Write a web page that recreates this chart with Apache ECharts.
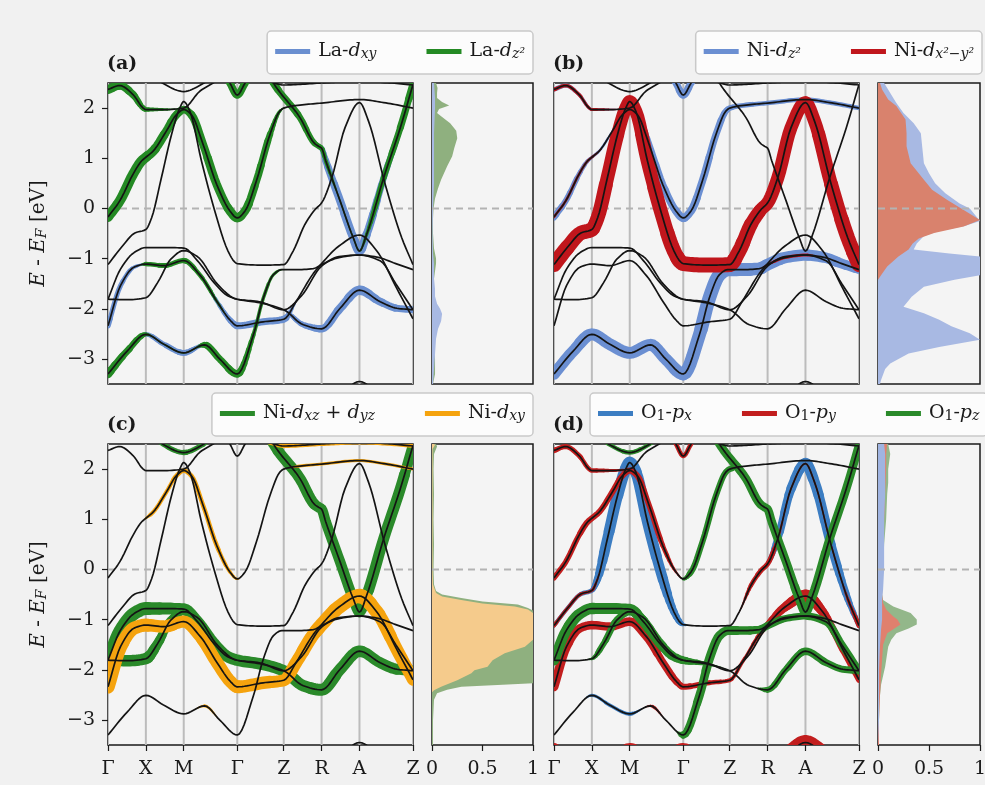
<!DOCTYPE html>
<html>
<head>
<meta charset="utf-8">
<title>Projected band structures and DOS</title>
<script src="https://cdn.jsdelivr.net/npm/echarts@6/dist/echarts.min.js"></script>
<style>
  html, body { margin: 0; padding: 0; overflow: hidden; background: #f1f1f1; }
  #chart { width: 1010px; height: 785px; }
</style>
</head>
<body>
<div id="chart"></div>
<script>
// ---------- k-path, tick labels ----------
const kPath = [0, 1, 2, 3.414, 4.641, 5.641, 6.641, 8.055];
const kLabels = ['Γ', 'X', 'M', 'Γ', 'Z', 'R', 'A', 'Z'];
const energyTicks = [-3, -2, -1, 0, 1, 2];
const dosTicks = [0, 0.5, 1];
const energyRange = [-3.5, 2.5];

// ---------- bands: [k, E - E_F (eV)] ----------
const bandA = [[0,-0.17],[0.31,0.15],[0.66,0.68],[0.88,0.94],[1.0,1.02],[1.19,1.14],[1.54,1.54],[1.81,1.87],[2.0,1.97],[2.2,1.87],[2.51,1.28],[2.87,0.48],[3.22,-0.05],[3.414,-0.19],[3.62,-0.05],[3.92,0.55],[4.28,1.48],[4.54,1.94],[4.641,2.0],[5.07,2.06],[5.641,2.1],[6.641,2.17],[7.28,2.11],[8.055,2.0]];
const bandD = [[0,-1.12],[0.35,-0.78],[0.71,-0.49],[1.0,-0.42],[1.15,-0.19],[1.41,0.61],[1.68,1.48],[1.9,2.01],[2.0,2.13],[2.16,1.94],[2.47,0.94],[2.82,-0.05],[3.17,-0.85],[3.35,-1.07],[3.414,-1.1],[4.06,-1.13],[4.641,-1.12],[4.89,-0.85],[5.2,-0.32],[5.47,-0.02],[5.641,0.11],[5.91,0.61],[6.26,1.61],[6.641,2.11],[6.88,1.74],[7.32,0.48],[7.76,-0.59],[8.055,-1.12]];
const bandT1 = [[0,2.37],[0.31,2.45],[0.66,2.27],[0.93,2.0],[1.0,1.97],[1.5,1.97],[2.0,2.0],[2.43,2.34],[2.82,2.52],[3.0,2.62]];
const bandT2 = [[1.2,2.65],[1.46,2.49],[2.0,2.33],[2.51,2.49],[2.8,2.65]];
const bandT3 = [[3.05,2.7],[3.22,2.5],[3.414,2.26],[3.62,2.5],[3.8,2.7]];
const bandT4 = [[3.9,2.62],[4.3,2.52],[4.641,2.46],[5.641,2.5],[6.641,2.53],[7.5,2.5],[8.055,2.46]];
const bandU = [[4.2,2.75],[4.37,2.5],[5.07,1.81],[5.45,1.3],[5.56,1.24],[5.641,1.2],[5.75,0.95],[6.13,0.15],[6.48,-0.59],[6.641,-0.85],[6.83,-0.52],[7.28,0.61],[7.72,1.61],[8.055,2.47]];
const bandB = [[0,-3.3],[0.5,-2.85],[1.0,-2.51],[1.48,-2.71],[2.0,-2.88],[2.55,-2.72],[2.96,-3.01],[3.414,-3.3],[3.84,-2.52],[4.1,-1.79],[4.37,-1.32],[4.59,-1.22],[5.0,-1.22],[5.42,-1.2],[5.641,-1.12],[6.1,-0.98],[6.641,-0.93],[7.1,-0.97],[7.6,-1.1],[8.055,-1.22]];
const bandF = [[0,-1.81],[0.33,-1.21],[0.69,-0.88],[1.0,-0.78],[1.48,-0.78],[2.0,-0.79],[2.36,-1.04],[2.8,-1.48],[3.16,-1.74],[3.414,-1.81],[4.0,-1.88],[4.641,-2.02],[5.16,-2.32],[5.641,-2.4],[6.13,-1.99],[6.641,-1.63],[7.19,-1.86],[7.63,-1.99],[8.055,-2.02]];
const bandG = [[0,-1.81],[0.52,-1.82],[1.0,-1.78],[1.31,-1.48],[1.66,-1.01],[2.0,-0.84],[2.36,-0.96],[2.89,-1.51],[3.33,-1.79],[3.414,-1.81],[4.0,-1.86],[4.641,-2.02],[5.1,-1.75],[5.641,-1.15],[6.1,-0.96],[6.641,-0.93],[7.2,-1.05],[7.6,-1.5],[8.055,-2.02]];
const bandH = [[0,-2.34],[0.33,-1.54],[0.69,-1.17],[1.0,-1.11],[1.48,-1.14],[2.0,-1.04],[2.44,-1.34],[2.89,-1.87],[3.24,-2.24],[3.414,-2.34],[4.1,-2.26],[4.641,-2.21],[4.98,-1.84],[5.42,-1.3],[5.641,-1.1],[6.1,-0.75],[6.641,-0.53],[7.1,-0.85],[7.63,-1.6],[8.055,-2.2]];
const bandW = [[5.9,-3.9],[6.3,-3.6],[6.641,-3.45],[7.0,-3.6],[7.4,-3.9]];
const bandW2 = [[0,-3.58],[0.5,-3.85],[1.0,-3.95],[1.5,-3.85],[2.0,-3.58],[2.7,-3.85],[3.414,-3.58],[3.9,-3.9]];
const allBands = [bandA, bandD, bandT1, bandT2, bandT3, bandT4, bandU, bandB, bandF, bandG, bandH, bandW, bandW2];

// ---------- orbital weights along bands: [k, weight 0..1] ----------
// (a) La-d_xy
const aDxy_H = [[0,0.35],[0.5,0.3],[1.0,0.1],[2.0,0.05],[3.0,0.3],[3.414,0.45],[4.641,0.45],[4.85,0.2],[5.0,0]];
const aDxy_F = [[4.6,0],[4.85,0.3],[5.641,0.5],[6.641,0.62],[7.3,0.5],[8.055,0.45]];
const aDxy_U = [[5.5,0.2],[5.8,0.5],[6.641,0.6],[7.2,0.45],[8.055,0.3]];
const aDxy_B = [[0.7,0],[1.0,0.3],[2.0,0.4],[2.5,0.2],[2.8,0]];
// (a) La-d_z2
const aDz2_A = [[0,0.65],[1.0,0.65],[2.0,0.5],[2.6,0.55],[3.414,0.6],[4.2,0.45],[4.55,0.15],[4.7,0]];
const aDz2_T1 = [[0,0.6],[0.6,0.5],[1.0,0.3],[1.5,0.15],[2.0,0]];
const aDz2_T3 = [[3.1,0.5],[3.414,0.5],[3.7,0.5]];
const aDz2_U = [[4.2,0.5],[5.0,0.45],[5.6,0.35],[6.0,0.1],[6.641,0.1],[7.0,0.35],[8.055,0.5]];
const aDz2_B = [[0,0.55],[0.8,0.4],[1.1,0.1],[2.3,0.1],[2.6,0.45],[3.414,0.5],[3.9,0.25],[4.4,0.2],[4.7,0]];
const aDz2_H = [[0.8,0],[1.0,0.3],[2.0,0.35],[2.7,0.25],[3.2,0]];
// (b) Ni-d_z2
const bDz2_A = [[0,0.45],[0.6,0.35],[1.0,0.2],[1.8,0.1],[2.3,0.4],[3.414,0.55],[4.4,0.45],[4.641,0.35],[5.5,0.3],[8.055,0.3]];
const bDz2_B = [[0,0.75],[1.0,0.8],[2.0,0.8],[3.0,0.8],[3.414,0.85],[4.1,0.9],[4.641,0.9],[5.641,0.8],[6.641,0.75],[7.3,0.7],[8.055,0.6]];
const bDz2_T3 = [[3.05,0.45],[3.414,0.5],[3.8,0.45]];
const bDz2_T1 = [[0,0.3],[1.0,0.2],[2.0,0]];
// (b) Ni-d_x2-y2
const bDx2_D = [[0,1.0],[1.0,0.95],[2.0,0.85],[3.414,1.0],[4.641,1.0],[5.641,0.85],[6.641,0.85],[8.055,1.0]];
const bDx2_T1 = [[0,0.25],[1.0,0.2],[2.0,0]];
const bDx2_A = [[0,0.15],[1.0,0.15],[1.5,0]];
const bDx2_B = [[5.4,0],[5.8,0.2],[6.641,0.2],[7.0,0]];
// (c) Ni-d_xz + d_yz
const cDxz_F = [[0,0.85],[1.0,0.85],[2.0,0.75],[3.414,0.75],[4.641,0.75],[5.641,0.8],[6.641,0.75],[8.055,0.7]];
const cDxz_G = [[0,0.75],[1.0,0.75],[1.5,0.55],[2.0,0.45],[2.5,0.2],[3.0,0]];
const cDxz_U = [[4.2,0.7],[5.0,0.75],[5.641,0.7],[6.641,0.7],[7.3,0.75],[8.055,0.7]];
const cDxz_T2 = [[1.3,0.3],[2.0,0.35],[2.7,0.3]];
// (c) Ni-d_xy
const cDxy_H = [[0,0.9],[1.0,0.85],[2.0,0.8],[3.414,0.85],[4.641,0.8],[5.641,0.9],[6.641,0.95],[7.4,0.85],[8.055,0.8]];
const cDxy_A = [[0.9,0],[1.1,0.25],[2.0,0.3],[2.8,0.3],[3.3,0.2],[3.5,0],[4.7,0],[5.0,0.2],[8.055,0.2]];
const cDxy_T4 = [[4.0,0.25],[8.055,0.25]];
const cDxy_B = [[2.2,0],[2.55,0.2],[2.8,0.1],[3.0,0]];
// (d) O1-p_x
const dPx_D = [[0,0.25],[1.0,0.3],[1.3,0.7],[2.0,0.8],[2.8,0.7],[3.3,0.4],[3.5,0],[5.4,0],[5.9,0.5],[6.641,0.75],[7.4,0.6],[8.055,0.3]];
const dPx_B = [[0.7,0],[1.0,0.2],[2.0,0.25],[2.4,0]];
// (d) O1-p_y
const dPy_A = [[0,0.35],[1.0,0.4],[2.0,0.4],[2.8,0.35],[3.3,0.1],[3.5,0]];
const dPy_T1 = [[0,0.35],[1.0,0.3],[2.0,0.1]];
const dPy_T3 = [[3.1,0.3],[3.414,0.3],[3.7,0.3]];
const dPy_D = [[0,0.25],[1.0,0.2],[1.3,0],[4.8,0],[5.2,0.3],[5.7,0.35],[6.0,0.1],[7.6,0.1],[8.055,0.35]];
const dPy_H = [[0,0.6],[1.0,0.55],[2.0,0.55],[3.0,0.5],[3.414,0.4],[4.641,0.25],[5.2,0.2],[5.641,0.4],[6.641,0.85],[7.2,0.5],[8.055,0.4]];
const dPy_W = [[5.9,1.0],[7.4,1.0]];
const dPy_W2 = [[0,0.8],[3.9,0.8]];
const dPy_B = [[2.3,0],[2.6,0.2],[3.0,0]];
// (d) O1-p_z
const dPz_A = [[3.414,0.2],[3.6,0.4],[4.641,0.4],[4.8,0]];
const dPz_U = [[4.2,0.55],[5.641,0.55],[6.641,0.6],[8.055,0.55]];
const dPz_F = [[0,0.7],[1.0,0.75],[2.0,0.7],[3.0,0.6],[3.414,0.5],[4.0,0.2],[4.641,0],[5.3,0],[5.641,0.4],[6.641,0.5],[8.055,0.45]];
const dPz_G = [[0.8,0],[1.2,0.4],[2.0,0.5],[2.5,0.2],[3.0,0],[6.4,0],[6.7,0.5],[8.055,0.5]];
const dPz_B = [[3.2,0],[3.414,0.5],[4.1,0.6],[4.641,0.6],[5.641,0.5],[6.641,0.45],[6.9,0]];
const dPz_T2 = [[1.3,0.25],[2.0,0.3],[2.7,0.25]];

// ---------- projected DOS: [E - E_F (eV), states (arb.)] ----------
const dosA_dxy = [[-3.5,0.01],[-3.2,0.02],[-2.9,0.03],[-2.6,0.04],[-2.4,0.06],[-2.25,0.09],[-2.1,0.1],[-2.0,0.08],[-1.9,0.05],[-1.75,0.03],[-1.6,0.03],[-1.4,0.02],[-1.1,0.02],[-0.9,0.01],[-0.5,0.005],[0,0.01],[0.5,0.02],[1.0,0.02],[1.5,0.02],[2.0,0.03],[2.2,0.03],[2.5,0.02]];
const dosA_dz2 = [[-3.5,0.01],[-3.3,0.03],[-3.0,0.03],[-2.7,0.02],[-2.4,0.03],[-2.2,0.04],[-2.0,0.03],[-1.7,0.02],[-1.4,0.02],[-1.1,0.04],[-1.0,0.04],[-0.8,0.02],[-0.5,0.01],[-0.2,0.01],[0,0.015],[0.2,0.03],[0.4,0.06],[0.57,0.09],[0.84,0.15],[1.04,0.2],[1.2,0.22],[1.4,0.25],[1.55,0.24],[1.7,0.18],[1.82,0.1],[1.9,0.05],[1.98,0.07],[2.05,0.17],[2.12,0.1],[2.2,0.05],[2.3,0.05],[2.4,0.055],[2.5,0.04]];
const dosB_dz2 = [[-3.5,0.02],[-3.42,0.03],[-3.2,0.07],[-3.09,0.12],[-2.89,0.3],[-2.76,0.6],[-2.62,1.0],[-2.49,0.9],[-2.35,0.72],[-2.22,0.6],[-2.09,0.45],[-1.96,0.25],[-1.76,0.33],[-1.56,0.45],[-1.42,0.75],[-1.33,1.0],[-0.96,1.0],[-0.9,0.7],[-0.82,0.35],[-0.7,0.38],[-0.55,0.45],[-0.45,0.6],[-0.35,0.85],[-0.25,1.0],[-0.15,0.96],[0.0,0.9],[0.1,0.8],[0.3,0.66],[0.5,0.56],[0.7,0.5],[0.9,0.45],[1.1,0.44],[1.3,0.43],[1.5,0.42],[1.7,0.35],[1.9,0.25],[2.1,0.18],[2.3,0.12],[2.5,0.06]];
const dosB_dx2 = [[-1.42,0.0],[-1.3,0.04],[-1.16,0.09],[-0.96,0.2],[-0.82,0.3],[-0.7,0.34],[-0.6,0.4],[-0.49,0.55],[-0.36,0.84],[-0.23,1.0],[-0.03,0.84],[0.17,0.68],[0.37,0.53],[0.57,0.45],[0.9,0.32],[1.24,0.28],[1.5,0.28],[1.77,0.27],[2.04,0.18],[2.17,0.1],[2.37,0.04],[2.5,0.02]];
const dosC_dxz = [[-3.5,0.01],[-3.0,0.01],[-2.6,0.02],[-2.47,0.05],[-2.4,0.15],[-2.34,0.29],[-2.3,0.7],[-2.27,1.0],[-0.82,1.0],[-0.77,0.95],[-0.7,0.85],[-0.64,0.5],[-0.57,0.29],[-0.5,0.1],[-0.43,0.04],[-0.3,0.02],[0,0.015],[0.5,0.02],[1.0,0.015],[1.5,0.02],[2.0,0.015],[2.3,0.02],[2.45,0.05],[2.5,0.04]];
const dosC_dxy = [[-2.45,0.0],[-2.41,0.02],[-2.34,0.09],[-2.21,0.25],[-2.07,0.39],[-2.01,0.42],[-1.94,0.55],[-1.81,0.6],[-1.67,0.72],[-1.54,0.92],[-1.4,1.0],[-0.87,1.0],[-0.8,0.95],[-0.74,0.82],[-0.68,0.5],[-0.61,0.29],[-0.54,0.1],[-0.47,0.04],[-0.3,0.01],[0,0.005],[2.4,0.005],[2.48,0.03],[2.5,0.02]];
const dosD_px = [[-3.5,0.0],[-3.0,0.01],[-2.0,0.01],[-1.5,0.02],[-1.2,0.03],[-1.0,0.04],[-0.6,0.04],[-0.4,0.05],[0,0.06],[0.5,0.06],[1.0,0.06],[1.5,0.07],[2.0,0.07],[2.3,0.07],[2.5,0.06]];
const dosD_py = [[-3.5,0.01],[-3.0,0.01],[-2.5,0.02],[-2.1,0.03],[-1.8,0.04],[-1.5,0.05],[-1.27,0.09],[-1.1,0.22],[-1.0,0.19],[-0.94,0.15],[-0.8,0.08],[-0.67,0.05],[-0.5,0.04],[0,0.05],[0.5,0.05],[1.0,0.06],[1.5,0.07],[2.0,0.08],[2.3,0.08],[2.5,0.09]];
const dosD_pz = [[-3.5,0.005],[-3.0,0.01],[-2.6,0.015],[-2.3,0.03],[-1.94,0.07],[-1.54,0.1],[-1.4,0.13],[-1.27,0.18],[-1.18,0.3],[-1.1,0.38],[-1.0,0.38],[-0.87,0.32],[-0.74,0.15],[-0.61,0.05],[-0.5,0.04],[0,0.05],[0.5,0.06],[1.0,0.08],[1.5,0.09],[1.73,0.1],[2.0,0.1],[2.3,0.12],[2.5,0.1]];

// ---------- look ----------
const FONT = "'DejaVu Serif', 'Liberation Serif', serif";
const INK = '#1a1a1a';
const FAT_SCALE = 15;          // px of fat-band width for weight 1
const BAND_COLOR = '#141414';

// Plot rectangles: band panel then DOS panel, for (a) (b) (c) (d)
const gridsPos = [
  {left: 108, top: 83,  width: 305, height: 301},
  {left: 432, top: 83,  width: 101, height: 301},
  {left: 554, top: 83,  width: 305, height: 301},
  {left: 878, top: 83,  width: 102, height: 301},
  {left: 108, top: 444, width: 305, height: 301},
  {left: 432, top: 444, width: 101, height: 301},
  {left: 554, top: 444, width: 305, height: 301},
  {left: 878, top: 444, width: 102, height: 301}
];

const panelDefs = [
  {
    tag: '(a)',
    layers: [
      {name: 'La-dxy', color: '#6a8fd0', parts: [[bandH, aDxy_H], [bandF, aDxy_F], [bandU, aDxy_U], [bandB, aDxy_B]]},
      {name: 'La-dz2', color: '#248a24', parts: [[bandA, aDz2_A], [bandT1, aDz2_T1], [bandT3, aDz2_T3], [bandU, aDz2_U], [bandB, aDz2_B], [bandH, aDz2_H]]}
    ],
    dos: [{data: dosA_dz2, color: '#8fb07f'}, {data: dosA_dxy, color: '#a8b9e3'}],
    legend: {right: 477, top: 31}
  },
  {
    tag: '(b)',
    layers: [
      {name: 'Ni-dz2', color: '#6b8fd2', parts: [[bandA, bDz2_A], [bandB, bDz2_B], [bandT3, bDz2_T3], [bandT1, bDz2_T1]]},
      {name: 'Ni-dx2y2', color: '#c0161c', parts: [[bandD, bDx2_D], [bandT1, bDx2_T1], [bandA, bDx2_A], [bandB, bDx2_B]]}
    ],
    dos: [{data: dosB_dz2, color: '#a8b9e3'}, {data: dosB_dx2, color: '#d9826d'}],
    legend: {right: 28, top: 31}
  },
  {
    tag: '(c)',
    layers: [
      {name: 'Ni-dxz+dyz', color: '#2a8a2a', parts: [[bandF, cDxz_F], [bandG, cDxz_G], [bandU, cDxz_U], [bandT2, cDxz_T2]]},
      {name: 'Ni-dxy', color: '#f5a30e', parts: [[bandH, cDxy_H], [bandA, cDxy_A], [bandT4, cDxy_T4], [bandB, cDxy_B]]}
    ],
    dos: [{data: dosC_dxz, color: '#8fb07f'}, {data: dosC_dxy, color: '#f5cb8c'}],
    legend: {right: 477, top: 393}
  },
  {
    tag: '(d)',
    layers: [
      {name: 'O1-px', color: '#3c7dc2', parts: [[bandD, dPx_D], [bandB, dPx_B]]},
      {name: 'O1-py', color: '#c21e1e', parts: [[bandA, dPy_A], [bandT1, dPy_T1], [bandT3, dPy_T3], [bandD, dPy_D], [bandH, dPy_H], [bandW, dPy_W], [bandW2, dPy_W2], [bandB, dPy_B]]},
      {name: 'O1-pz', color: '#2a8a2a', parts: [[bandA, dPz_A], [bandU, dPz_U], [bandF, dPz_F], [bandG, dPz_G], [bandB, dPz_B], [bandT2, dPz_T2]]}
    ],
    dos: [{data: dosD_pz, color: '#93b78a'}, {data: dosD_py, color: '#e0806e'}, {data: dosD_px, color: '#a0b4e1'}],
    legend: {left: 590, top: 393}
  }
];

const legendText = {
  'La-dxy': '{r|La-}{i|d}{s|xy}',
  'La-dz2': '{r|La-}{i|d}{s|z²}',
  'Ni-dz2': '{r|Ni-}{i|d}{s|z²}',
  'Ni-dx2y2': '{r|Ni-}{i|d}{s|x²−y²}',
  'Ni-dxz+dyz': '{r|Ni-}{i|d}{s|xz}{r| + }{i|d}{s|yz}',
  'Ni-dxy': '{r|Ni-}{i|d}{s|xy}',
  'O1-px': '{r|O}{n|1}{r|-}{i|p}{s|x}',
  'O1-py': '{r|O}{n|1}{r|-}{i|p}{s|y}',
  'O1-pz': '{r|O}{n|1}{r|-}{i|p}{s|z}'
};

// ---------- helpers ----------
// Monotone cubic (Fritsch–Carlson) through band samples, evaluated densely in k
function monotone(pts) {
  const n = pts.length, xs = pts.map(p => p[0]), ys = pts.map(p => p[1]);
  const h = [], d = [], m = new Array(n);
  for (let i = 0; i < n - 1; i++) { h[i] = xs[i + 1] - xs[i]; d[i] = (ys[i + 1] - ys[i]) / h[i]; }
  m[0] = d[0]; m[n - 1] = d[n - 2];
  for (let i = 1; i < n - 1; i++) {
    if (d[i - 1] * d[i] <= 0) m[i] = 0;
    else {
      const w1 = 2 * h[i] + h[i - 1], w2 = h[i] + 2 * h[i - 1];
      m[i] = (w1 + w2) / (w1 / d[i - 1] + w2 / d[i]);
    }
  }
  return {xs, ys, h, m};
}
const denseCache = new Map();
function densePath(pts) {
  if (denseCache.has(pts)) return denseCache.get(pts);
  const s = monotone(pts), out = [];
  for (let i = 0; i < pts.length - 1; i++) {
    const steps = Math.max(6, Math.ceil(s.h[i] * 16));
    for (let j = 0; j < steps; j++) {
      const t = j / steps, hh = s.h[i];
      const t2 = t * t, t3 = t2 * t;
      const e = (2 * t3 - 3 * t2 + 1) * s.ys[i] + (t3 - 2 * t2 + t) * hh * s.m[i] +
                (-2 * t3 + 3 * t2) * s.ys[i + 1] + (t3 - t2) * hh * s.m[i + 1];
      out.push([s.xs[i] + t * hh, e]);
    }
  }
  out.push(pts[pts.length - 1]);
  denseCache.set(pts, out);
  return out;
}
function weightAt(ws, k) {
  if (k < ws[0][0] || k > ws[ws.length - 1][0]) return 0;
  for (let i = 0; i < ws.length - 1; i++) {
    if (k <= ws[i + 1][0]) {
      const span = ws[i + 1][0] - ws[i][0];
      const t = span > 0 ? (k - ws[i][0]) / span : 0;
      return ws[i][1] + t * (ws[i + 1][1] - ws[i][1]);
    }
  }
  return ws[ws.length - 1][1];
}
function clipOf(cs) {
  return {type: 'rect', shape: {x: cs.x, y: cs.y, width: cs.width, height: cs.height}};
}
function kLabel(v) {
  const i = kPath.findIndex(k => Math.abs(k - v) < 1e-6);
  return i >= 0 ? kLabels[i] : '';
}
function fmtE(v) { return v < 0 ? '\u2212' + Math.abs(v) : String(v); }

// Fat band layer: band drawn with width proportional to orbital weight
function fatRender(parts, color) {
  return function (params, api) {
    const [band, ws] = parts[params.dataIndex];
    const dense = densePath(band);
    const children = [];
    let run = [], runW = -1;
    const flush = () => {
      if (run.length > 1 && runW > 0.4) {
        children.push({type: 'polyline', shape: {points: run},
          style: {stroke: color, lineWidth: runW, lineCap: 'round', lineJoin: 'round', fill: 'none'}});
      }
    };
    for (const [k, e] of dense) {
      const w = Math.round(weightAt(ws, k) * FAT_SCALE * 2) / 2;
      const p = api.coord([k, e]);
      if (w !== runW) {
        if (run.length) run.push(p);
        flush();
        run = [p]; runW = w;
      } else run.push(p);
    }
    flush();
    return {type: 'group', clipPath: clipOf(params.coordSys), children};
  };
}
function bandRender(params, api) {
  const pts = densePath(allBands[params.dataIndex]).map(p => api.coord(p));
  return {type: 'group', clipPath: clipOf(params.coordSys), children: [
    {type: 'polyline', shape: {points: pts}, style: {stroke: BAND_COLOR, lineWidth: 1.7, fill: 'none', lineJoin: 'round'}}
  ]};
}
function dosRender(data, color) {
  return function (params, api) {
    const pts = [api.coord([0, data[0][0]])];
    data.forEach(([e, v]) => pts.push(api.coord([v, e])));
    pts.push(api.coord([0, data[data.length - 1][0]]));
    return {type: 'group', clipPath: clipOf(params.coordSys), children: [
      {type: 'polygon', shape: {points: pts}, style: {fill: color}}
    ]};
  };
}
function zeroLineRender(xMax) {
  return function (params, api) {
    const a = api.coord([0, 0]), b = api.coord([xMax, 0]);
    return {type: 'line', shape: {x1: a[0], y1: a[1], x2: b[0], y2: b[1]},
      style: {stroke: '#b3b3b3', lineWidth: 2, lineDash: [7, 5]}};
  };
}
function kLineRender(params, api) {
  const k = kPath[params.dataIndex];
  const a = api.coord([k, energyRange[1]]), b = api.coord([k, energyRange[0]]);
  return {type: 'line', shape: {x1: a[0], y1: a[1], x2: b[0], y2: b[1]},
    style: {stroke: '#bcbcbc', lineWidth: 2}};
}

// ---------- axes ----------
const kMax = kPath[kPath.length - 1];
const xAxes = gridsPos.map((g, i) => {
  const band = i % 2 === 0, bottom = i >= 4;
  return {
    gridIndex: i, type: 'value', min: 0, max: band ? kMax : 1,
    axisLine: {show: false, onZero: false}, splitLine: {show: false},
    axisTick: {show: bottom, customValues: band ? kPath : dosTicks, length: 6, lineStyle: {color: INK, width: 1.2}},
    axisLabel: {show: bottom, customValues: band ? kPath : dosTicks, margin: 15, hideOverlap: false,
      fontFamily: FONT, fontSize: 19, color: INK, formatter: band ? kLabel : (v => String(v))}
  };
});
const yAxes = gridsPos.map((g, i) => {
  const labelled = i === 0 || i === 4;
  return {
    gridIndex: i, type: 'value', min: energyRange[0], max: energyRange[1],
    axisLine: {show: false, onZero: false}, splitLine: {show: false},
    axisTick: {show: labelled, customValues: energyTicks, length: 6, lineStyle: {color: INK, width: 1.2}},
    axisLabel: {show: labelled, customValues: energyTicks, margin: 13, fontFamily: FONT, fontSize: 19, color: INK, formatter: fmtE},
    name: labelled ? '{i|E} - {i|E}{s|F} [eV]' : '',
    nameLocation: 'middle', nameRotate: 90, nameGap: 59,
    nameTextStyle: {fontFamily: FONT, fontSize: 20, color: INK, rich: {
      r: {fontFamily: FONT, fontSize: 20, color: INK},
      i: {fontFamily: FONT, fontSize: 20, fontStyle: 'italic', color: INK},
      s: {fontFamily: FONT, fontSize: 14, fontStyle: 'italic', color: INK, verticalAlign: 'bottom', lineHeight: 12}
    }}
  };
});

// ---------- series ----------
const series = [];
panelDefs.forEach((pd, p) => {
  const bg = 2 * p, dg = 2 * p + 1;
  const onBand = {coordinateSystem: 'cartesian2d', xAxisIndex: bg, yAxisIndex: bg, silent: true, clip: true};
  const onDos = {coordinateSystem: 'cartesian2d', xAxisIndex: dg, yAxisIndex: dg, silent: true, clip: true};
  series.push(Object.assign({type: 'custom', z: 1, data: kPath.map(() => [0, 0]), renderItem: kLineRender}, onBand));
  series.push(Object.assign({type: 'custom', z: 2, data: [[0, 0]], renderItem: zeroLineRender(kMax)}, onBand));
  pd.layers.forEach((layer, li) => {
    series.push(Object.assign({
      type: 'custom', name: layer.name, z: 3 + li,
      itemStyle: {color: layer.color},
      data: layer.parts.map(() => [0, 0]),
      renderItem: fatRender(layer.parts, layer.color)
    }, onBand));
  });
  series.push(Object.assign({type: 'custom', z: 10, data: allBands.map(() => [0, 0]), renderItem: bandRender}, onBand));
  pd.dos.forEach((d, di) => {
    series.push(Object.assign({type: 'custom', z: 3 + di, data: [[0, 0]], renderItem: dosRender(d.data, d.color)}, onDos));
  });
  series.push(Object.assign({type: 'custom', z: 8, data: [[0, 0]], renderItem: zeroLineRender(1)}, onDos));
});

// ---------- legends & panel tags ----------
const legendRich = {
  r: {fontFamily: FONT, fontSize: 19, color: INK},
  i: {fontFamily: FONT, fontSize: 19, fontStyle: 'italic', color: INK},
  s: {fontFamily: FONT, fontSize: 14, fontStyle: 'italic', color: INK, verticalAlign: 'bottom', lineHeight: 12},
  n: {fontFamily: FONT, fontSize: 14, color: INK, verticalAlign: 'bottom', lineHeight: 12}
};
const legends = panelDefs.map(pd => Object.assign({
  data: pd.layers.map(l => l.name),
  orient: 'horizontal', icon: 'rect', itemWidth: 35, itemHeight: 5, itemGap: 50,
  padding: [11, 8, 13, 8], selectedMode: false,
  backgroundColor: 'rgba(255,255,255,0.78)', borderColor: '#c9c9c9', borderWidth: 1.5, borderRadius: 4,
  textStyle: {fontFamily: FONT, fontSize: 19, color: INK, padding: [0, 0, 0, 3], rich: legendRich},
  formatter: name => legendText[name]
}, pd.legend));

const tagPos = [[107, 55], [553, 55], [107, 416], [553, 416]];
const graphics = panelDefs.map((pd, p) => ({
  type: 'text', left: tagPos[p][0], top: tagPos[p][1], silent: true,
  style: {text: pd.tag, fontFamily: FONT, fontWeight: 'bold', fontSize: 19, fill: INK}
}));

const chart = echarts.init(document.getElementById('chart'));
chart.setOption({
  animation: false,
  backgroundColor: '#f1f1f1',
  grid: gridsPos.map(g => Object.assign({show: true, borderColor: INK, borderWidth: 1.5, backgroundColor: '#f4f4f4'}, g)),
  xAxis: xAxes,
  yAxis: yAxes,
  legend: legends,
  graphic: graphics,
  series: series
});
</script>
</body>
</html>
